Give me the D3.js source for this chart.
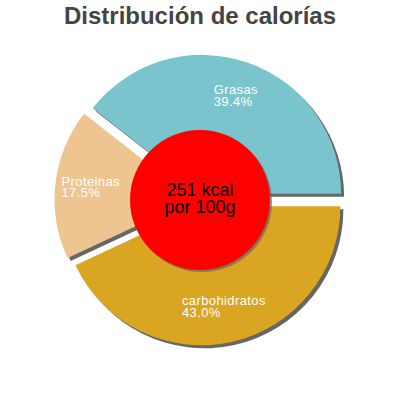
<!DOCTYPE html>
<html>
<head>
  <meta charset="utf-8">
  <title>Distribución de calorías</title>
  <style>
  body { margin: 0; background: #fff; }
  text { font-family: "Liberation Sans", Arial, sans-serif; }
  </style>
</head>
<body>
  <svg width="400" height="400"></svg>
  <script src="https://d3js.org/d3.v7.min.js"></script>
  <script>
  // datos
  var categories = ["Grasas", "Proteinas", "carbohidratos"];
  var percents = [39.4, 17.5, 43.0];
  var colors = ["#7AC5CD", "#EEC591", "#DAA520"];
  var centerLines = ["251 kcal", "por 100g"];
  var title = "Distribución de calorías";

  var svg = d3.select("svg");
  var cx = 200, cy = 200, R = 139, explode = 6.5;

  svg.append("text")
    .attr("x", 200)
    .attr("y", 24)
    .attr("text-anchor", "middle")
    .attr("font-size", 24)
    .attr("font-weight", "bold")
    .attr("fill", "#444")
    .text(title);

  var data = categories.map(function(c, i) { return { name: c, value: percents[i], color: colors[i] }; });

  // empieza a las 3 en punto y gira en sentido antihorario
  var pie = d3.pie()
    .sort(null)
    .value(function(d) { return d.value; })
    .startAngle(Math.PI / 2)
    .endAngle(Math.PI / 2 - 2 * Math.PI);

  var arc = d3.arc().innerRadius(0).outerRadius(R);
  var arcs = pie(data);

  function offset(d, r) {
    var a = (d.startAngle + d.endAngle) / 2;
    return [Math.sin(a) * r, -Math.cos(a) * r];
  }

  var g = svg.append("g").attr("transform", "translate(" + cx + "," + cy + ")");

  // sombras
  g.selectAll(".shadow")
    .data(arcs)
    .enter()
    .append("path")
    .attr("class", "shadow")
    .attr("fill", "#666")
    .attr("transform", function(d) { var o = offset(d, explode); return "translate(" + (o[0] + 3) + "," + (o[1] + 3) + ")"; })
    .attr("d", arc);

  g.selectAll(".slice")
    .data(arcs)
    .enter()
    .append("path")
    .attr("class", "slice")
    .attr("fill", function(d) { return d.data.color; })
    .attr("transform", function(d) { var o = offset(d, explode); return "translate(" + o[0] + "," + o[1] + ")"; })
    .attr("d", arc);

  // etiquetas
  var labels = g.selectAll(".label")
    .data(arcs)
    .enter()
    .append("text")
    .attr("class", "label")
    .attr("fill", "#fff")
    .attr("font-size", 13)
    .attr("letter-spacing", 0.4);

  labels.each(function(d) {
    var t = d3.select(this);
    var p = offset(d, 110);
    t.append("tspan").attr("y", p[1] - 2).text(d.data.name);
    t.append("tspan").attr("y", p[1] + 9.7).text(d.data.value.toFixed(1) + "%");
    var w = 0;
    t.selectAll("tspan").each(function() { w = Math.max(w, this.getComputedTextLength()); });
    t.selectAll("tspan").attr("x", p[0] - w / 2);
  });

  // círculo central
  g.append("circle")
    .attr("cx", 2)
    .attr("cy", 2)
    .attr("r", 70)
    .attr("fill", "#666")
    .attr("opacity", 0.7);

  g.append("circle")
    .attr("r", 70)
    .attr("fill", "#f00");

  g.selectAll(".center")
    .data(centerLines)
    .enter()
    .append("text")
    .attr("class", "center")
    .attr("text-anchor", "middle")
    .attr("font-size", 18)
    .attr("fill", "#000")
    .attr("y", function(d, i) { return -4 + i * 17; })
    .text(function(d) { return d; });
  </script>
</body>
</html>
